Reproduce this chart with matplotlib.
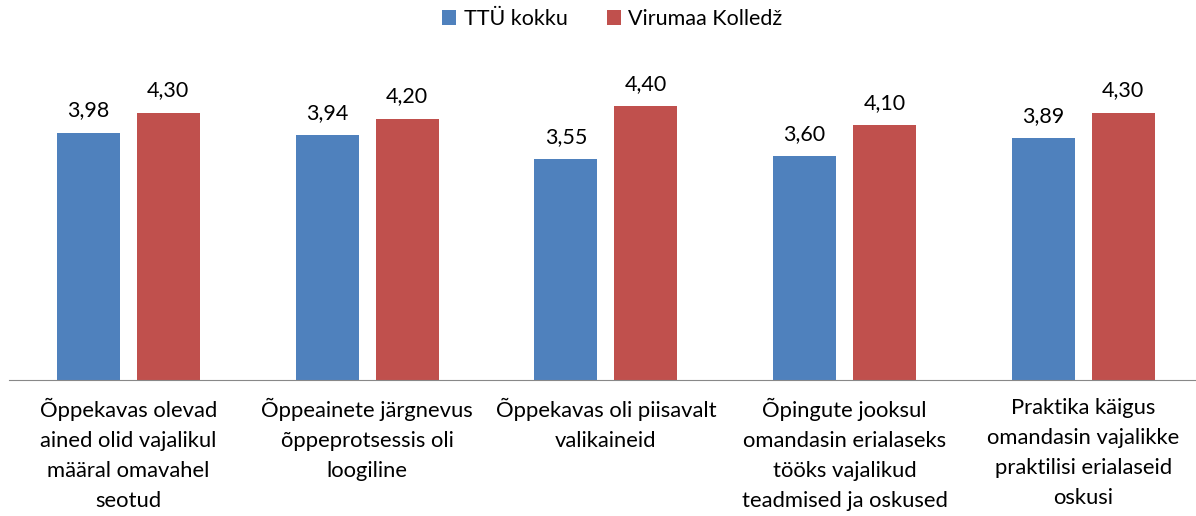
import numpy as np
import matplotlib.pyplot as plt

plt.rcParams['font.family'] = ['Lato', 'DejaVu Sans']

categories = [
    'Õppekavas olevad\nained olid vajalikul\nmääral omavahel\nseotud',
    'Õppeainete järgnevus\nõppeprotsessis oli\nloogiline',
    'Õppekavas oli piisavalt\nvalikaineid',
    'Õpingute jooksul\nomandasin erialaseks\ntööks vajalikud\nteadmised ja oskused',
    'Praktika käigus\nomandasin vajalikke\npraktilisi erialaseid\noskusi',
]
ttu = [3.98, 3.94, 3.55, 3.60, 3.89]
virumaa = [4.30, 4.20, 4.40, 4.10, 4.30]
series_names = ['TTÜ kokku', 'Virumaa Kolledž']

fig = plt.figure(figsize=(11.96, 5.16), dpi=100)
ax = fig.add_axes([9 / 1196, 0.2636, 1 - 9 / 1196, 0.6024])

x = np.arange(len(categories))
w = 0.264
off = 0.1675
b1 = ax.bar(x - off, ttu, w, color='#4F81BD', label=series_names[0])
b2 = ax.bar(x + off, virumaa, w, color='#C0504D', label=series_names[1])

# value labels with decimal comma
for bars, vals in ((b1, ttu), (b2, virumaa)):
    for r, v in zip(bars, vals):
        ax.text(r.get_x() + r.get_width() / 2, v + 0.2, f'{v:.2f}'.replace('.', ','),
                ha='center', va='bottom', fontsize=15.5)

ax.set_xlim(-0.5, -0.5 + 1187 / 238.75)
ax.set_ylim(0, 5)
ax.set_yticks([])
ax.set_xticks(x)
ax.set_xticklabels(categories, fontsize=15.8, linespacing=1.63)
ax.tick_params(axis='x', length=0, pad=13)
for s in ['top', 'right', 'left']:
    ax.spines[s].set_visible(False)
ax.spines['bottom'].set_color('#888888')

fig.legend(loc='center', bbox_to_anchor=(0.512, 0.963), ncol=2, frameon=False,
           fontsize=15.5, handlelength=0.65, handleheight=0.65, columnspacing=1.8,
           handletextpad=0.35)

fig.savefig('out.png', dpi=100)
